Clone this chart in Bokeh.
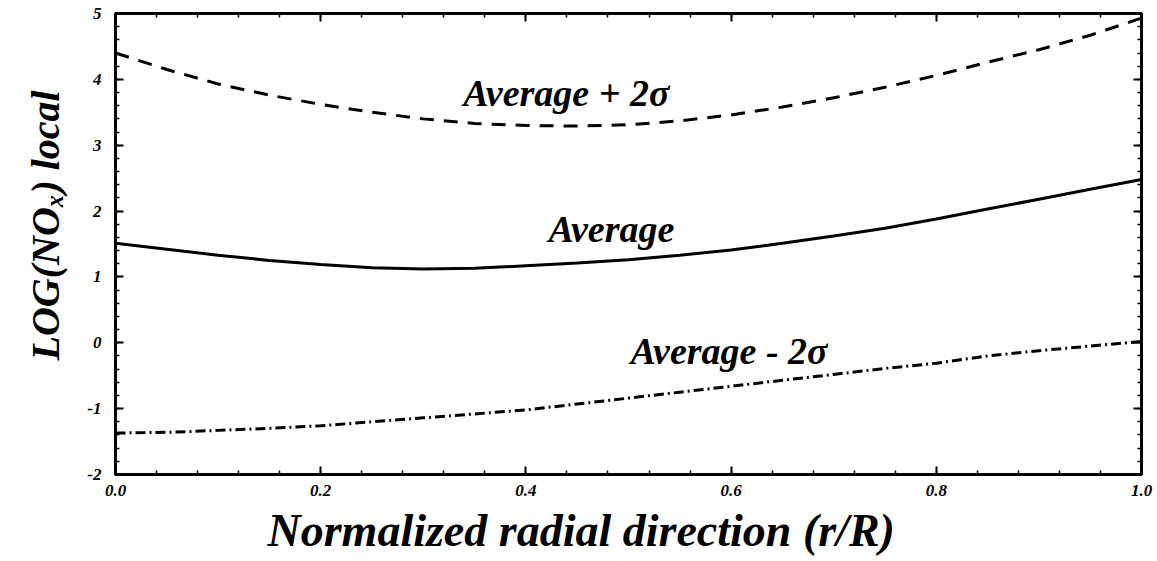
from bokeh.plotting import figure
from bokeh.models import (LinearAxis, SingleIntervalTicker, PrintfTickFormatter, Label, Range1d,
                          CustomJSTickFormatter, Title)
from bokeh.embed import file_html
from bokeh.resources import INLINE

# ---- data ----
r_over_R = [0.00, 0.05, 0.10, 0.15, 0.20, 0.25, 0.30, 0.35, 0.40, 0.45, 0.50,
            0.55, 0.60, 0.65, 0.70, 0.75, 0.80, 0.85, 0.90, 0.95, 1.00]
avg_plus_2s = [4.40, 4.15, 3.93, 3.76, 3.62, 3.50, 3.40, 3.33, 3.30, 3.29, 3.31,
               3.37, 3.46, 3.58, 3.72, 3.88, 4.06, 4.26, 4.45, 4.67, 4.93]
avg = [1.51, 1.42, 1.33, 1.25, 1.19, 1.14, 1.12, 1.13, 1.17, 1.21, 1.26,
       1.33, 1.41, 1.51, 1.62, 1.74, 1.88, 2.03, 2.18, 2.33, 2.48]
avg_minus_2s = [-1.37, -1.36, -1.33, -1.30, -1.26, -1.20, -1.14, -1.08, -1.02, -0.93, -0.84,
                -0.75, -0.66, -0.57, -0.48, -0.39, -0.31, -0.20, -0.12, -0.05, 0.02]

curve_labels = ["Average + 2\u03c3", "Average", "Average - 2\u03c3"]
curve_label_x = [0.339, 0.422, 0.502]
curve_label_y = [3.80, 1.73, -0.12]

x_title = "Normalized radial direction (r/R)"
y_title = "LOG(NO\u2093) local"

FONT = "Liberation Serif"

p = figure(width=1157, height=561, x_range=Range1d(0, 1), y_range=Range1d(-2, 5),
           output_backend="svg", toolbar_location=None,
           min_border_left=115, min_border_right=16, min_border_top=13, min_border_bottom=87)
p.xgrid.visible = False
p.ygrid.visible = False
p.outline_line_color = "black"
p.outline_line_width = 3
p.background_fill_color = "white"
p.border_fill_color = "white"

def style(ax, labels=True):
    ax.axis_line_width = 3
    ax.major_tick_line_width = 2
    ax.minor_tick_line_width = 1.5
    ax.major_tick_in = 8
    ax.major_tick_out = 0
    ax.minor_tick_in = 4
    ax.minor_tick_out = 0
    ax.major_label_text_font = FONT
    ax.major_label_text_font_style = "bold italic"
    ax.major_label_text_font_size = "17px"
    ax.major_label_text_color = "black"
    if not labels:
        ax.formatter = CustomJSTickFormatter(code="return '';")
        ax.major_label_standoff = 0

xa = p.xaxis[0]
xa.ticker = SingleIntervalTicker(interval=0.2, num_minor_ticks=5)
xa.formatter = PrintfTickFormatter(format="%.1f")
style(xa)
xa.major_label_standoff = 10

ya = p.yaxis[0]
ya.ticker = SingleIntervalTicker(interval=1, num_minor_ticks=5)
ya.formatter = PrintfTickFormatter(format="%d")
style(ya)
ya.major_label_standoff = 14

top = LinearAxis(ticker=SingleIntervalTicker(interval=0.2, num_minor_ticks=5))
style(top, labels=False)
p.add_layout(top, "above")
right = LinearAxis(ticker=SingleIntervalTicker(interval=1, num_minor_ticks=5))
style(right, labels=False)
p.add_layout(right, "right")

p.line(r_over_R, avg_plus_2s, line_color="black", line_width=3, line_dash="14 10")
p.line(r_over_R, avg, line_color="black", line_width=3)
p.line(r_over_R, avg_minus_2s, line_color="black", line_width=3, line_dash="10 4 2 4")

for t, lx, ly in zip(curve_labels, curve_label_x, curve_label_y):
    p.add_layout(Label(x=lx, y=ly, text=t, text_font=FONT, text_font_style="bold italic",
                       text_font_size="38px", text_color="black", text_baseline="alphabetic",
                       text_align="left"))

# axis titles as side titles so they can sit off-centre like the reference
p.add_layout(Title(text=x_title, text_font=FONT, text_font_style="bold italic",
                   text_font_size="46px", text_color="black", align="left",
                   offset=152, standoff=8), "below")
p.add_layout(Title(text=y_title, text_font=FONT, text_font_style="bold italic",
                   text_font_size="40px", text_color="black", align="left",
                   offset=114, standoff=30, vertical_align="top"), "left")

open("out.html", "w").write(file_html(p, INLINE))
